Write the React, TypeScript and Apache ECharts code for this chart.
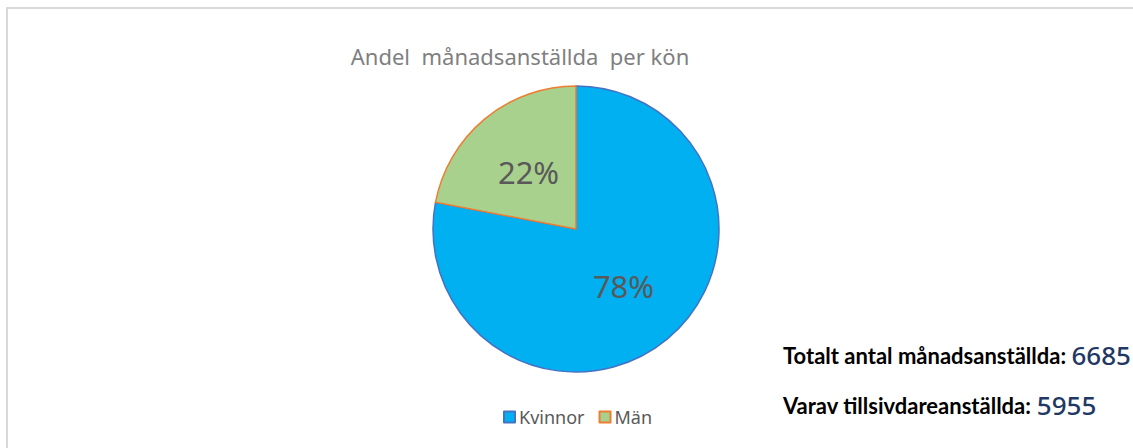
import React, { useEffect, useRef } from "react";
import * as echarts from "echarts";

const titleText = "Andel  månadsanställda  per kön";
const categories = ["Kvinnor", "Män"];
const values = [78, 22];
const colors = ["#00B0F0", "#A9D18E"];
const borderColors = ["#4472C4", "#ED7D31"];
const totalLabel = "Totalt antal månadsanställda:";
const totalValue = "6685";
const subLabel = "Varav tillsivdareanställda:";
const subValue = "5955";

const infoRich = {
  a: { fontFamily: "Lato", fontWeight: "bold", fontSize: 22, color: "#000000" },
  b: { fontFamily: "Noto Sans", fontSize: 26, color: "#1F3864", fontWeight: 500 },
};

export default function App() {
  const ref = useRef<HTMLDivElement>(null);
  useEffect(() => {
    if (!ref.current) return;
    const chart = echarts.init(ref.current, null, { renderer: "svg" });
    chart.setOption({
      animation: false,
      backgroundColor: "#ffffff",
      title: [
        {
          text: titleText,
          left: 515,
          top: 40,
          textAlign: "center",
          textStyle: {
            fontFamily: "Noto Sans",
            fontSize: 22,
            fontWeight: "normal",
            color: "#7f7f7f",
          },
        },
        {
          text: "{a|" + totalLabel + " }{b|" + totalValue + "}",
          left: 778,
          top: 337,
          textStyle: { rich: infoRich },
        },
        {
          text: "{a|" + subLabel + " }{b|" + subValue + "}",
          left: 778,
          top: 387,
          textStyle: { rich: infoRich },
        },
      ],
      legend: {
        data: categories,
        left: 498,
        top: 403,
        itemWidth: 11,
        itemHeight: 11,
        itemGap: 14,
        icon: "rect",
        textStyle: {
          fontFamily: "Noto Sans",
          fontSize: 18,
          color: "#595959",
          padding: [0, 0, 0, -1],
        },
      },
      graphic: [
        {
          type: "rect",
          shape: { x: 7, y: 8, width: 1140, height: 460 },
          style: { fill: "none", stroke: "#d9d9d9", lineWidth: 2 },
          silent: true,
        },
      ],
      series: [
        {
          type: "pie",
          center: [576, 229],
          radius: 143,
          startAngle: 90,
          clockwise: true,
          data: categories.map((c, i) => ({
            name: c,
            value: values[i],
            itemStyle: { color: colors[i], borderColor: borderColors[i], borderWidth: 1.5 },
          })),
          label: {
            show: true,
            position: "inside",
            formatter: (p: any) => p.value + "%",
            fontFamily: "Noto Sans",
            fontSize: 31,
            color: "#595959",
          },
          labelLine: { show: false },
          emphasis: { disabled: true },
        },
      ],
    });
    return () => chart.dispose();
  }, []);
  return (
    <div
      ref={ref}
      style={{ position: "fixed", left: 0, top: 0, width: 1133, height: 448 }}
    />
  );
}
